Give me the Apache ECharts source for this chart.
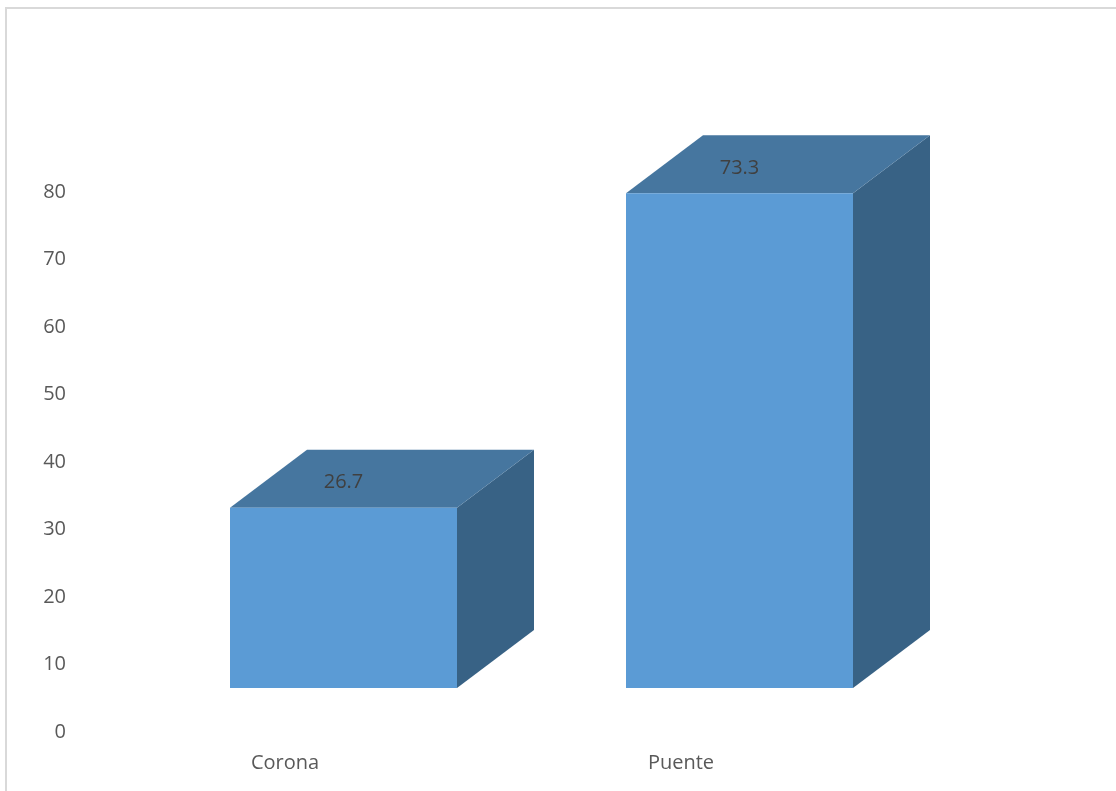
<!DOCTYPE html>
<html>
<head>
<meta charset="utf-8">
<script src="https://cdn.jsdelivr.net/npm/echarts@6/dist/echarts.min.js"></script>
<style>
html,body{margin:0;padding:0;background:#fff;}
#chart{width:1116px;height:791px;}
</style>
</head>
<body>
<div id="chart"></div>
<script>
const categories = ['Corona', 'Puente'];
const values = [26.7, 73.3];
const yTicks = [0, 10, 20, 30, 40, 50, 60, 70, 80];

const chart = echarts.init(document.getElementById('chart'));
const FONT = '"Open Sans", sans-serif';

// 3D geometry (pixels)
const FLOOR_UP = 44;     // front face baseline above value-axis zero
const DEPTH_X = 77;      // depth shift right
const DEPTH_Y = -58;     // depth shift up
const FRONT_LEFT = -55;  // front face left relative to category center
const FRONT_W = 227;     // front face width

function renderItem(params, api) {
  const idx = api.value(0);
  const val = api.value(1);
  const base = api.coord([idx, 0]);
  const top = api.coord([idx, val]);
  const x0 = base[0] + FRONT_LEFT;
  const x1 = x0 + FRONT_W;
  const yb = base[1] - FLOOR_UP;
  const yt = top[1] - FLOOR_UP;
  const front = [[x0, yt], [x1, yt], [x1, yb], [x0, yb]];
  const topFace = [[x0, yt], [x0 + DEPTH_X, yt + DEPTH_Y], [x1 + DEPTH_X, yt + DEPTH_Y], [x1, yt]];
  const side = [[x1, yt], [x1 + DEPTH_X, yt + DEPTH_Y], [x1 + DEPTH_X, yb + DEPTH_Y], [x1, yb]];
  return {
    type: 'group',
    children: [
      { type: 'polygon', shape: { points: side }, style: { fill: '#386285' } },
      { type: 'polygon', shape: { points: topFace }, style: { fill: '#46769F' } },
      { type: 'polygon', shape: { points: front }, style: { fill: '#5B9BD5' } },
      {
        type: 'text',
        style: {
          text: String(val),
          x: (x0 + x1) / 2,
          y: yt + DEPTH_Y / 2 + 4,
          align: 'center',
          verticalAlign: 'middle',
          fill: '#404040',
          font: '20px ' + FONT
        }
      }
    ]
  };
}

chart.setOption({
  backgroundColor: '#ffffff',
  animation: false,
  graphic: [{
    type: 'rect',
    shape: { x: 6, y: 8, width: 1300, height: 1000 },
    style: { fill: 'none', stroke: '#d9d9d9', lineWidth: 2 },
    silent: true,
    z: -10
  }],
  grid: { left: 87, right: 237, top: 192, bottom: 59 },
  xAxis: {
    type: 'category',
    data: categories,
    axisLine: { show: false },
    axisTick: { show: false },
    axisLabel: { color: '#595959', fontFamily: FONT, fontSize: 20, margin: 21 }
  },
  yAxis: {
    type: 'value',
    min: yTicks[0],
    max: yTicks[yTicks.length - 1],
    interval: 10,
    axisLine: { show: false },
    axisTick: { show: false },
    splitLine: { show: false },
    axisLabel: { color: '#595959', fontFamily: FONT, fontSize: 20, margin: 21 }
  },
  series: [{
    type: 'custom',
    renderItem: renderItem,
    clip: false,
    data: values.map((v, i) => [i, v])
  }]
});
</script>
</body>
</html>
